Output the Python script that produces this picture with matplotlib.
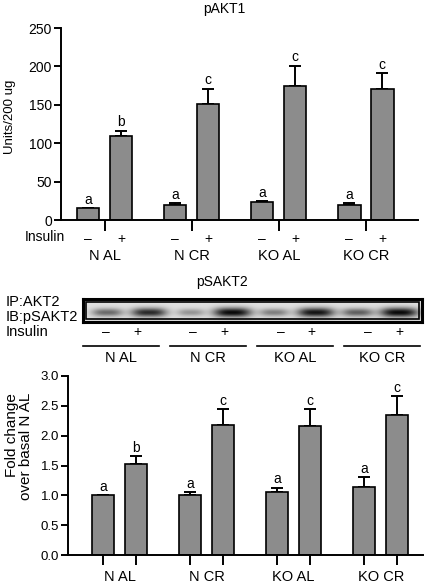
import matplotlib.pyplot as plt
import numpy as np
from matplotlib.patches import Rectangle

plt.rcParams['font.family'] = ['Liberation Sans', 'DejaVu Sans']

groups = ['N AL', 'N CR', 'KO AL', 'KO CR']
insulin = ['\u2013', '+']

# pAKT1, Units/200 ug
akt1_minus = [15, 20, 23, 20]
akt1_minus_err = [0.5, 1.5, 1.5, 1.5]
akt1_plus = [110, 151, 175, 171]
akt1_plus_err = [6, 20, 26, 20]
akt1_minus_sig = ['a', 'a', 'a', 'a']
akt1_plus_sig = ['b', 'c', 'c', 'c']

# pSAKT2, fold change over basal N AL
sakt2_minus = [1.0, 1.0, 1.05, 1.14]
sakt2_minus_err = [0.0, 0.06, 0.08, 0.16]
sakt2_plus = [1.52, 2.18, 2.17, 2.34]
sakt2_plus_err = [0.14, 0.27, 0.28, 0.32]
sakt2_minus_sig = ['a', 'a', 'a', 'a']
sakt2_plus_sig = ['b', 'c', 'c', 'c']

# blot band darkness, lanes ordered N AL -, +, N CR -, + ...
blot_dark = [0.55, 0.85, 0.35, 1.0, 0.45, 0.95, 0.6, 1.0]

W, H = 427, 585
BAR = '#8c8c8c'


def px(x, y):
    return x / W, 1 - y / H


def ax_rect(x0, y0, x1, y1):
    return [x0 / W, 1 - y1 / H, (x1 - x0) / W, (y1 - y0) / H]


fig = plt.figure(figsize=(W / 100, H / 100), dpi=100)

gap = 2.64
xm = np.arange(4) * gap
xp = xm + 1
bw = 0.68


def bars(ax, minus, minus_err, plus, plus_err, sig_m, sig_p, off, fs):
    ax.bar(xm, minus, bw, color=BAR, edgecolor='black', linewidth=1.2, zorder=2)
    ax.bar(xp, plus, bw, color=BAR, edgecolor='black', linewidth=1.2, zorder=2)
    for x, v, e in [(xm, minus, minus_err), (xp, plus, plus_err)]:
        ax.errorbar(x, v, yerr=[np.zeros(4), e], fmt='none', ecolor='black',
                    elinewidth=1.4, capsize=4.5, capthick=1.4, zorder=1)
    for i in range(4):
        ax.text(xm[i], minus[i] + minus_err[i] + off, sig_m[i], ha='center',
                va='bottom', fontsize=10)
        ax.text(xp[i], plus[i] + plus_err[i] + off, sig_p[i], ha='center',
                va='bottom', fontsize=10)
    for s in ['top', 'right']:
        ax.spines[s].set_visible(False)
    for s in ['left', 'bottom']:
        ax.spines[s].set_linewidth(1.4)
    ax.tick_params(axis='y', length=5, width=1.4, labelsize=fs, pad=1.5)


# ---- top chart: pAKT1
ax1 = fig.add_axes(ax_rect(61, 28, 418, 220))
bars(ax1, akt1_minus, akt1_minus_err, akt1_plus, akt1_plus_err,
     akt1_minus_sig, akt1_plus_sig, 2, 10)
ax1.set_xlim(-0.82, 10.0)
ax1.set_ylim(0, 250)
ax1.set_yticks(np.arange(0, 251, 50))
ax1.set_xticks(xm + 0.5)
ax1.set_xticklabels([])
ax1.tick_params(axis='x', length=8, width=1.4)
ax1.set_xticks(np.sort(np.concatenate([xm, xp])), minor=True)
ax1.set_xticklabels(insulin * 4, minor=True, fontsize=10)
ax1.tick_params(axis='x', which='minor', length=0, pad=9)
for i, g in enumerate(groups):
    ax1.text(xm[i] + 0.5, -0.19, g, transform=ax1.get_xaxis_transform(),
             ha='center', va='center', fontsize=10.5)
fig.text(*px(65, 237), 'Insulin', ha='right', va='center', fontsize=10)
fig.text(*px(10, 117), 'Units/200 ug', rotation=90, ha='center', va='center',
         fontsize=9.5)
fig.text(*px(224, 9), 'pAKT1', ha='center', va='center', fontsize=10)

# ---- blot
fig.text(*px(222, 282), 'pSAKT2', ha='center', va='center', fontsize=10)
axb = fig.add_axes(ax_rect(83, 299, 422, 322))
bx0, bx1, by0, by1 = 0, 339, 0, 23
xx, yy = np.meshgrid(np.linspace(bx0, bx1, 340), np.linspace(by0, by1, 46))
img = np.zeros_like(xx)
lane_c = 24 + np.arange(8) * 41.8
for c, d in zip(lane_c, blot_dark):
    wx = 11 + 8 * d
    wy = 3.2 + 1.6 * d
    img += d * np.exp(-np.abs((xx - c) / wx) ** 3 - ((yy - 13.5) / wy) ** 2)
img = np.clip(0.88 - 0.85 * img, 0, 1)
axb.imshow(img, cmap='gray', vmin=0, vmax=1, extent=[bx0, bx1, by1, by0],
           aspect='auto', interpolation='bilinear')
axb.set_xticks([])
axb.set_yticks([])
for s in axb.spines.values():
    s.set_linewidth(2.2)
axb.add_patch(Rectangle((3, 3), 333, 17, fill=False, edgecolor='black',
                        linewidth=1.2))
fig.text(*px(6, 302), 'IP:AKT2', ha='left', va='center', fontsize=10.5)
fig.text(*px(6, 317), 'IB:pSAKT2', ha='left', va='center', fontsize=10.5)
fig.text(*px(6, 332), 'Insulin', ha='left', va='center', fontsize=10.5)

# ---- bottom chart: pSAKT2
ax2 = fig.add_axes(ax_rect(68, 376, 423, 555))
bars(ax2, sakt2_minus, sakt2_minus_err, sakt2_plus, sakt2_plus_err,
     sakt2_minus_sig, sakt2_plus_sig, 0.02, 9.5)
ax2.set_xlim(-1.06, 9.7)
ax2.set_ylim(0, 3.0)
ax2.set_yticks(np.arange(0, 3.01, 0.5))
ax2.set_yticklabels([f'{v:.1f}' for v in np.arange(0, 3.01, 0.5)])
ax2.set_xticks(np.sort(np.concatenate([xm, xp])))
ax2.set_xticklabels([])
ax2.tick_params(axis='x', length=7, width=1.4)
for i, g in enumerate(groups):
    ax2.text(xm[i] + 0.5, -0.125, g, transform=ax2.get_xaxis_transform(),
             ha='center', va='center', fontsize=10.5)
fig.text(*px(19, 393), 'Fold change\nover basal N AL', rotation=90,
         ha='center', va='top', fontsize=11, linespacing=1.05,
         multialignment='right')

# insulin row and group lines under the blot, aligned with bottom chart
tr = ax2.get_xaxis_transform()
ylab = (555 - 332) / 179
yline = (555 - 346) / 179
yname = (555 - 358) / 179
for i, g in enumerate(groups):
    ax2.text(xm[i] + 0.1, ylab, insulin[0], transform=tr, ha='center',
             va='center', fontsize=10, clip_on=False)
    ax2.text(xp[i] + 0.05, ylab, insulin[1], transform=tr, ha='center',
             va='center', fontsize=10, clip_on=False)
    ax2.plot([xm[i] - 0.6, xp[i] + 0.7], [yline, yline], color='black',
             lw=1.2, transform=tr, clip_on=False)
    ax2.text(xm[i] + 0.55, yname, g, transform=tr, ha='center', va='center',
             fontsize=10.5, clip_on=False)

fig.savefig('out.png', dpi=100)
